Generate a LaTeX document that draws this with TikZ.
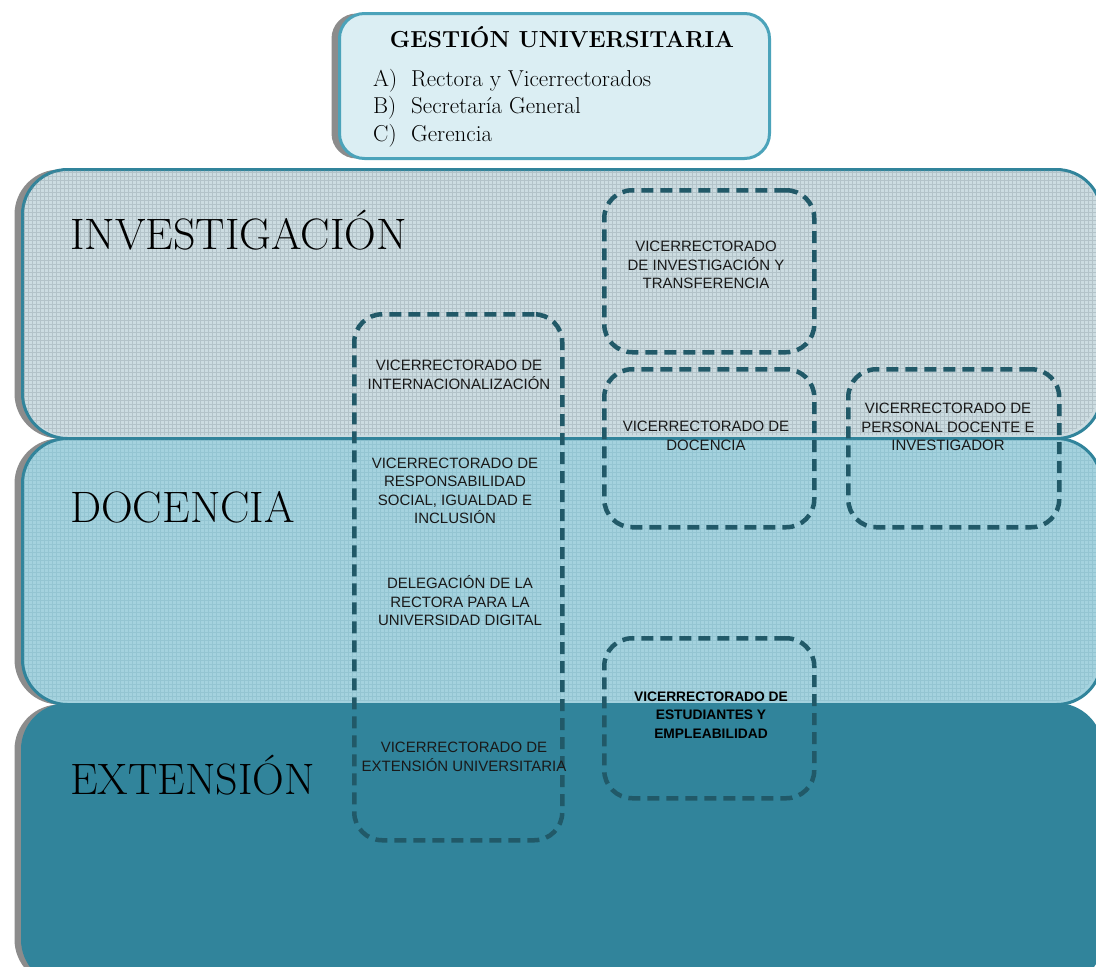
\documentclass[tikz,border=0pt]{standalone}
\usepackage{fontspec}
\newfontfamily\sansf{Liberation Sans}
\usetikzlibrary{shadows}
\definecolor{bandline}{HTML}{31849B}
\definecolor{invfill}{HTML}{CCDCE1}
\definecolor{docfill}{HTML}{A4D2DE}
\definecolor{extfill}{HTML}{31849B}
\definecolor{dashc}{HTML}{215968}
\definecolor{gesfill}{HTML}{DBEEF3}
\definecolor{gesline}{HTML}{4BA3BA}
\definecolor{shadowc}{HTML}{8C8C8C}
\definecolor{texc}{HTML}{7A8C92}
\definecolor{texd}{HTML}{5E9AAA}
\tikzset{
  band/.style={rectangle, rounded corners=45pt, draw=bandline, line width=3pt,
    inner sep=0pt, anchor=north west,
    drop shadow={shadow xshift=-8pt, shadow yshift=0pt, opacity=1, fill=shadowc}},
  gbox/.style={rectangle, rounded corners=25pt, draw=gesline, line width=3pt,
    fill=gesfill, inner sep=0pt, anchor=north west,
    drop shadow={shadow xshift=-8pt, shadow yshift=0pt, opacity=1, fill=shadowc}},
  dbox/.style={rectangle, rounded corners=28pt, draw=dashc, line width=4.5pt,
    dash pattern=on 12pt off 7pt, inner sep=0pt, anchor=north west},
  bandlabel/.style={anchor=base west, inner sep=0pt, font=\fontsize{44}{44}\selectfont},
  vtext/.style={align=center, inner sep=0pt, text=black!90,
    font=\sansf\fontsize{15}{18.5}\selectfont},
  listtext/.style={anchor=base west, inner sep=0pt, font=\fontsize{23}{28}\selectfont},
  texture/.style={draw=texc, line width=0.6pt, opacity=0.3},
  texture2/.style={draw=texd, line width=0.6pt, opacity=0.22}
}
\begin{document}
\begin{tikzpicture}[x=1pt,y=-1pt]
\useasboundingbox (0,0) rectangle (1096,967);
\clip (0,0) rectangle (1096,967);

% bands
\node[band, fill=invfill, minimum width=1079pt, minimum height=269pt] (inv) at (21,168) {};
\begin{scope}
  \clip[rounded corners=44pt] (23,170) rectangle (1098,435);
  \draw[texture, step=4pt] (20,166) grid (1100,440);
\end{scope}
\node[band, fill=docfill, minimum width=1079pt, minimum height=266pt] (doc) at (21,437) {};
\begin{scope}
  \clip[rounded corners=44pt] (23,439) rectangle (1098,701);
  \draw[texture2, step=4pt] (20,436) grid (1100,704);
\end{scope}
\node[band, fill=extfill, draw=extfill, minimum width=1079pt, minimum height=280pt] (ext) at (21,703) {};

\node[bandlabel] (linv) at (70,249) {INVESTIGACIÓN};
\node[bandlabel] (ldoc) at (70,522) {DOCENCIA};
\node[bandlabel] (lext) at (70,794) {EXTENSIÓN};

% gestion box
\node[gbox, minimum width=430pt, minimum height=145pt] (ges) at (338,12) {};
\node[anchor=base, inner sep=0pt, font=\bfseries\fontsize{23.2}{24}\selectfont] (gtitle) at (562,47) {GESTIÓN UNIVERSITARIA};
\node[listtext] (la) at (373,86) {A)};
\node[listtext] (ta) at (411,86) {Rectora y Vicerrectorados};
\node[listtext] (lb) at (373,113) {B)};
\node[listtext] (tb) at (411,113) {Secretaría General};
\node[listtext] (lc) at (373,141) {C)};
\node[listtext] (tc) at (411,141) {Gerencia};

% dashed boxes
\node[dbox, minimum width=208pt, minimum height=526pt] (big) at (352,312) {};
\node[dbox, minimum width=210pt, minimum height=162pt] (vinv) at (602,188) {};
\node[dbox, minimum width=210pt, minimum height=158pt] (vdoc) at (602,367) {};
\node[dbox, minimum width=211pt, minimum height=158pt] (vper) at (846,367) {};
\node[dbox, minimum width=210pt, minimum height=160pt] (vest) at (602,636) {};

% texts
\node[vtext] (t1) at (459,375) {VICERRECTORADO DE\\INTERNACIONALIZACIÓN};
\node[vtext] (t2) at (455,491) {VICERRECTORADO DE\\RESPONSABILIDAD\\SOCIAL, IGUALDAD E\\INCLUSIÓN};
\node[vtext] (t3) at (460,601) {DELEGACIÓN DE LA\\RECTORA PARA LA\\UNIVERSIDAD DIGITAL};
\node[vtext] (t4) at (464,757) {VICERRECTORADO DE\\EXTENSIÓN UNIVERSITARIA};
\node[vtext] (t5) at (706,265) {VICERRECTORADO\\DE INVESTIGACIÓN Y\\TRANSFERENCIA};
\node[vtext] (t6) at (706,436) {VICERRECTORADO DE\\DOCENCIA};
\node[vtext] (t7) at (948,427) {VICERRECTORADO DE\\PERSONAL DOCENTE E\\INVESTIGADOR};
\node[vtext, text=black, font=\sansf\bfseries\fontsize{13.8}{18.5}\selectfont] (t8) at (711,715) {VICERRECTORADO DE\\ESTUDIANTES Y\\EMPLEABILIDAD};
\end{tikzpicture}
\end{document}
